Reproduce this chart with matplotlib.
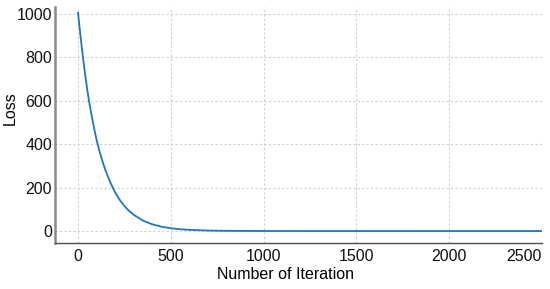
import matplotlib
matplotlib.use("Agg")
import matplotlib.pyplot as plt

# loss values
iterations = [0, 10, 25, 40, 50, 60, 75, 90, 100, 115, 125, 140, 150, 175, 200, 225, 250,
              275, 300, 350, 400, 450, 500, 550, 600, 700, 800, 900, 1000, 1250, 1500,
              2000, 2500]
loss = [1005, 925, 810, 710, 650, 595, 525, 460, 420, 370, 340, 300, 275, 222, 178, 143, 115,
        93, 75, 48, 31, 20, 13, 8.5, 5.5, 2.3, 1.0, 0.5, 0.3, 0.15, 0.1, 0.05, 0.03]

xticks = [0, 500, 1000, 1500, 2000, 2500]
yticks = [0, 200, 400, 600, 800, 1000]

plt.rcParams["font.family"] = ["Liberation Sans", "DejaVu Sans"]

fig = plt.figure(figsize=(5.5, 2.89), dpi=100)
# axes box: x 55..542 px, y 7..243 px
ax = fig.add_axes([55 / 550, (289 - 243) / 289, 487 / 550, 236 / 289])

ax.plot(iterations, loss, color="#1f77c0", linewidth=1.3)

ax.set_xlim(-124, 2500)
ax.set_ylim(-55, 1032)
ax.set_xticks(xticks)
ax.set_yticks(yticks)
ax.grid(True, color="#d0d0d0", linestyle=(0, (2, 2)), linewidth=0.8)
ax.set_axisbelow(True)

for s in ["top", "right"]:
    ax.spines[s].set_visible(False)
ax.spines["left"].set_color("#8a8a8a")
ax.spines["left"].set_linewidth(1.8)
ax.spines["bottom"].set_color("#505050")
ax.spines["bottom"].set_linewidth(1.0)

ax.tick_params(length=0, labelsize=11.5, colors="#111111")
ax.tick_params(axis="y", pad=2)
ax.tick_params(axis="x", pad=4)
# last x label sits flush to the right edge, as in the reference
ax.get_xticklabels()[-1].set_horizontalalignment("right")

ax.set_xlabel("Number of Iteration", fontsize=11.5)
ax.xaxis.set_label_coords(0.474, -0.1)
ax.set_ylabel("Loss", fontsize=11.5)
ax.yaxis.set_label_coords(-0.076, 0.57)

fig.savefig("out.png", dpi=100)
